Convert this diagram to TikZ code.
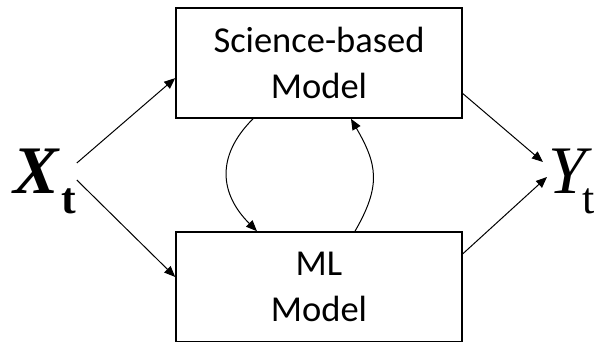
\documentclass[tikz,border=0pt]{standalone}
\usepackage{fontspec}
\setmainfont{Carlito}
\newfontfamily\timesfont{Liberation Serif}
\usetikzlibrary{arrows.meta}

\begin{document}
\begin{tikzpicture}[x=1pt, y=1pt, >={Triangle[length=11pt,width=9pt]},
  model/.style={draw, line width=1.6pt, minimum width=286pt, minimum height=110pt,
    align=center, font=\fontsize{36.5}{46}\selectfont},
  var/.style={inner sep=0pt, anchor=base west, font=\timesfont\fontsize{68}{68}\selectfont},
  link/.style={->, line width=1pt}]
\useasboundingbox (0,0) rectangle (595,341);
\node[model] (sci) at (319,278) {Science-based\\Model};
\node[model] (ml) at (319,54) {ML\\Model};
\node[var] (xt) at (13,148) {\textbf{\textit{X}}\kern2pt\raisebox{-20pt}{\fontsize{44}{44}\selectfont\textbf{t}}};
\node[var] (yt) at (548,148) {\textit{Y}\kern-10pt\raisebox{-20pt}{\fontsize{44}{44}\selectfont t}};
% inputs and outputs
\draw[link] ([yshift=30pt]xt.base east) -- (sci.186.7);
\draw[link] ([yshift=13pt]xt.base east) -- (ml.176.1);
\draw[link] (sci.348.2) -- ([shift={(-5pt,31pt)}]yt.base west);
\draw[link] (ml.13.4) -- ([shift={(-1pt,16pt)}]yt.base west);
% coupling between the two models
\draw[link] ([xshift=-66pt]sci.south) to[out=225, in=135, looseness=1.2] ([xshift=-62pt]ml.north);
\draw[link] ([xshift=36pt]ml.north) to[out=60, in=-60, looseness=1.2] ([xshift=32pt]sci.south);
\end{tikzpicture}
\end{document}
